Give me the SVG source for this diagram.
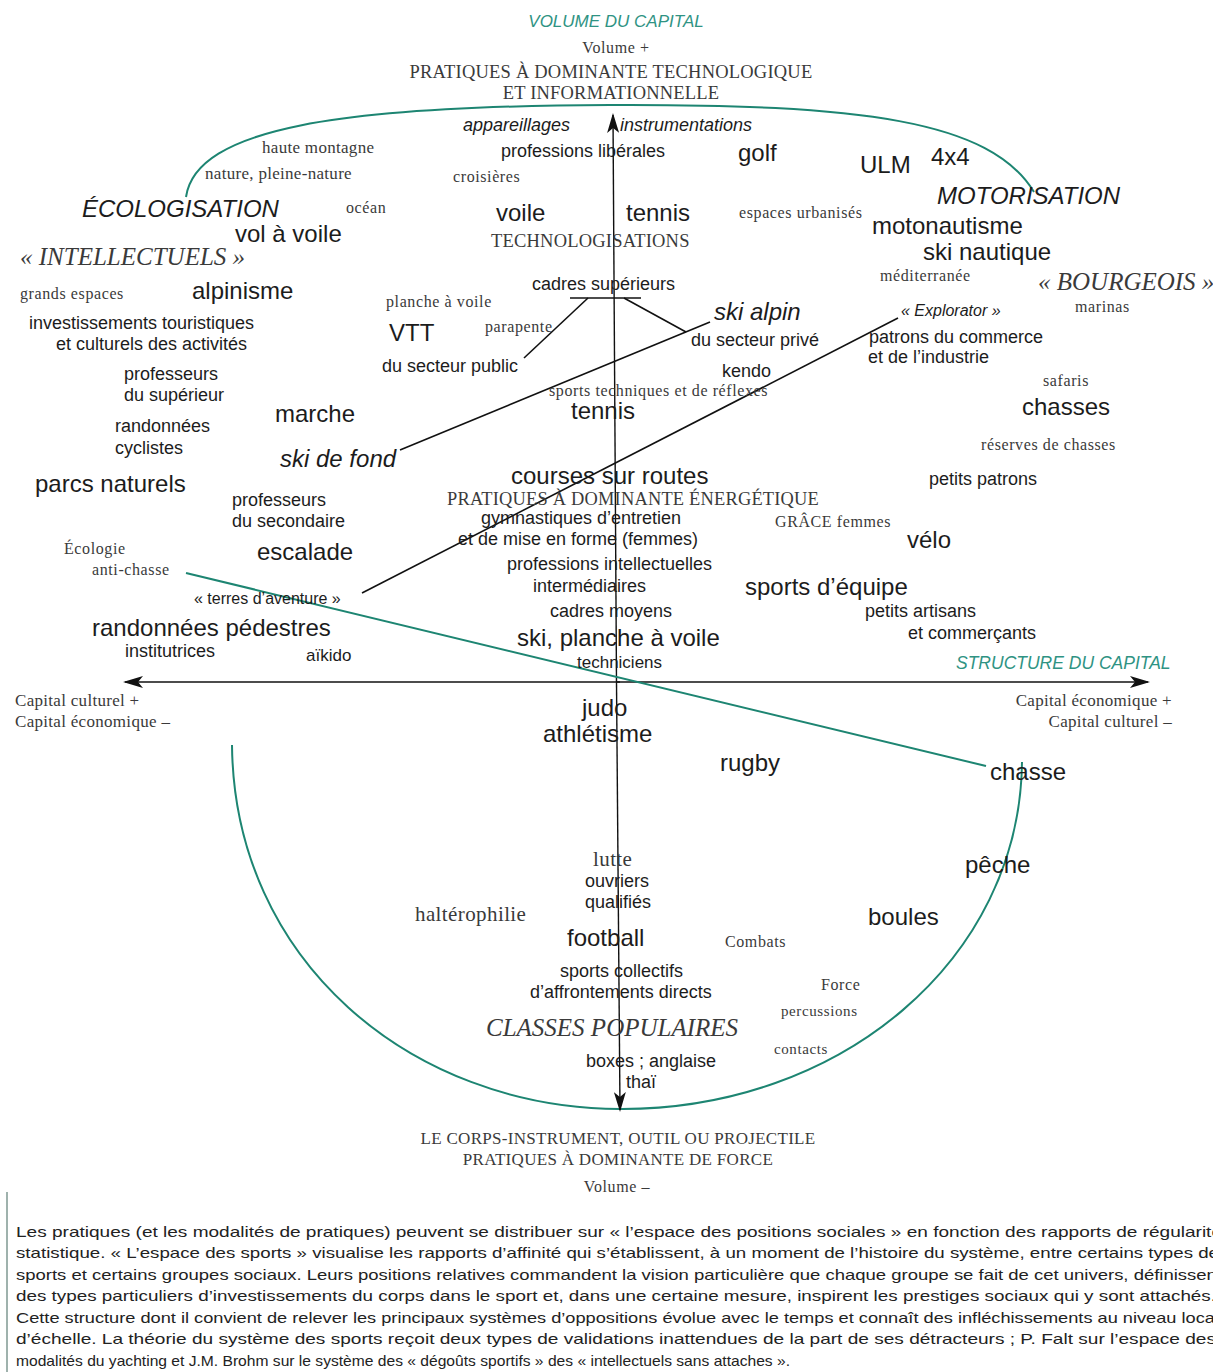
<svg xmlns="http://www.w3.org/2000/svg" width="1213" height="1372" viewBox="0 0 1213 1372">
<defs>
<marker id="ah" viewBox="0 0 20 12" refX="18" refY="6" markerWidth="20" markerHeight="12" markerUnits="userSpaceOnUse" orient="auto">
<path d="M0,0 L20,6 L0,12 L5,6 Z" fill="#111"/>
</marker>
<style>
text{font-family:"Liberation Sans",Arial,sans-serif;fill:#1c1c1c}
.m{font-size:18px}
.l{font-size:24px}
.it{font-style:italic}
.r{font-family:"Liberation Serif","Times New Roman",serif;fill:#3a3a3a;font-size:16px;letter-spacing:0.6px}
.r18{font-size:18.5px;letter-spacing:0.2px}
.r17{font-size:17px;letter-spacing:0.3px}
.r21{font-size:21px;letter-spacing:0.4px}
.r15{font-size:15px}
.rb{font-size:25px;letter-spacing:0}
.t{fill:#2f9383}
.c{text-anchor:middle}
.e{text-anchor:end}
.cap{font-size:14.5px;fill:#222}
.ax{stroke:#111;stroke-width:1.4;fill:none}
.tl{stroke:#1d8572;stroke-width:2;fill:none}
.bl{stroke:#111;stroke-width:1.6;fill:none}
</style>
</defs>
<rect width="1213" height="1372" fill="#fff"/>

<g id="connectors">
<path class="tl" d="M186,197 C196,128 340,106 610,105 C860,104 990,120 1034,192"/>
<path class="tl" d="M232,745 C234,960 410,1108 620,1109 C840,1110 1020,960 1022,762"/>
<line class="ax" x1="616.5" y1="682" x2="613" y2="115" marker-end="url(#ah)"/>
<line class="ax" x1="616.5" y1="682" x2="620" y2="1110" marker-end="url(#ah)"/>
<line class="ax" x1="620" y1="682" x2="125" y2="682" marker-end="url(#ah)"/>
<line class="ax" x1="616" y1="682" x2="1148" y2="682" marker-end="url(#ah)"/>
<line class="tl" x1="186" y1="573" x2="986" y2="766"/>
<line class="bl" x1="400" y1="450" x2="710" y2="322"/>
<line class="bl" x1="362" y1="593" x2="898" y2="318"/>
<line class="bl" x1="570" y1="298" x2="641" y2="298"/>
<line class="bl" x1="588" y1="298" x2="524" y2="358"/>
<line class="bl" x1="624" y1="298" x2="686" y2="332"/>
<line x1="7" y1="1192" x2="7" y2="1372" stroke="#9fb2ad" stroke-width="2"/>
</g>

<g id="axis-labels">
<g id="n-volume-capital"><text class="it t c" x="616" y="27" font-size="17">VOLUME DU CAPITAL</text></g>
<g id="n-volume-plus"><text class="r c" x="616" y="53">Volume +</text></g>
<g id="n-pratiques-techno"><text class="r r18 c" x="611" y="78">PRATIQUES À DOMINANTE TECHNOLOGIQUE</text><text class="r r18 c" x="611" y="99">ET INFORMATIONNELLE</text></g>
<g id="n-structure"><text class="it t" x="956" y="669" font-size="17.5">STRUCTURE DU CAPITAL</text></g>
<g id="n-cap-left"><text class="r r17" x="15" y="706">Capital culturel +</text><text class="r r17" x="15" y="727">Capital économique –</text></g>
<g id="n-cap-right"><text class="r r17 e" x="1172" y="706">Capital économique +</text><text class="r r17 e" x="1172" y="727">Capital culturel –</text></g>
<g id="n-corps"><text class="r r17 c" x="618" y="1144">LE CORPS-INSTRUMENT, OUTIL OU PROJECTILE</text><text class="r r17 c" x="618" y="1165">PRATIQUES À DOMINANTE DE FORCE</text></g>
<g id="n-volume-minus"><text class="r c" x="617" y="1192">Volume –</text></g>
</g>

<g id="nodes">
<g id="n1"><text class="m it" x="463" y="131">appareillages</text></g>
<g id="n2"><text class="m it" x="620" y="131">instrumentations</text></g>
<g id="n3"><text class="r r17" x="262" y="153">haute montagne</text></g>
<g id="n4"><text class="m" x="501" y="157">professions libérales</text></g>
<g id="n5"><text class="l" x="738" y="161">golf</text></g>
<g id="n6"><text class="l" x="860" y="173">ULM</text></g>
<g id="n7"><text class="l" x="931" y="165">4x4</text></g>
<g id="n8"><text class="r r17" x="205" y="179">nature, pleine-nature</text></g>
<g id="n9"><text class="r" x="453" y="182">croisières</text></g>
<g id="n10"><text class="l it" x="82" y="217">ÉCOLOGISATION</text></g>
<g id="n11"><text class="r" x="346" y="213">océan</text></g>
<g id="n12"><text class="l" x="496" y="221">voile</text></g>
<g id="n13"><text class="l" x="626" y="221">tennis</text></g>
<g id="n14"><text class="r" x="739" y="218">espaces urbanisés</text></g>
<g id="n15"><text class="l it" x="937" y="204">MOTORISATION</text></g>
<g id="n16"><text class="l" x="235" y="242">vol à voile</text></g>
<g id="n17"><text class="r r18" x="491" y="247">TECHNOLOGISATIONS</text></g>
<g id="n18"><text class="l" x="872" y="234">motonautisme</text></g>
<g id="n19"><text class="r rb it" x="20" y="265">« INTELLECTUELS »</text></g>
<g id="n20"><text class="l" x="923" y="260">ski nautique</text></g>
<g id="n21"><text class="m" x="532" y="290">cadres supérieurs</text></g>
<g id="n22"><text class="r" x="880" y="281">méditerranée</text></g>
<g id="n23"><text class="r rb it" x="1038" y="290">« BOURGEOIS »</text></g>
<g id="n24"><text class="r" x="20" y="299">grands espaces</text></g>
<g id="n25"><text class="l" x="192" y="299">alpinisme</text></g>
<g id="n26"><text class="r" x="386" y="307">planche à voile</text></g>
<g id="n27"><text class="l it" x="714" y="320">ski alpin</text></g>
<g id="n28"><text class="it" x="901" y="316" font-size="16">« Explorator »</text></g>
<g id="n29"><text class="r" x="1075" y="312">marinas</text></g>
<g id="n30"><text class="m" x="29" y="329">investissements touristiques</text><text class="m" x="56" y="350">et culturels des activités</text></g>
<g id="n31"><text class="l" x="389" y="341">VTT</text></g>
<g id="n32"><text class="r" x="485" y="332">parapente</text></g>
<g id="n33"><text class="m" x="691" y="346">du secteur privé</text></g>
<g id="n34"><text class="m" x="869" y="343">patrons du commerce</text><text class="m" x="868" y="363">et de l’industrie</text></g>
<g id="n35"><text class="m" x="382" y="372">du secteur public</text></g>
<g id="n36"><text class="m" x="722" y="377">kendo</text></g>
<g id="n37"><text class="m" x="124" y="380">professeurs</text><text class="m" x="124" y="401">du supérieur</text></g>
<g id="n38"><text class="r" x="1043" y="386">safaris</text></g>
<g id="n39"><text class="r" x="549" y="396">sports techniques et de réflexes</text></g>
<g id="n40"><text class="l" x="1022" y="415">chasses</text></g>
<g id="n41"><text class="l" x="275" y="422">marche</text></g>
<g id="n42"><text class="l" x="571" y="419">tennis</text></g>
<g id="n43"><text class="m" x="115" y="432">randonnées</text><text class="m" x="115" y="454">cyclistes</text></g>
<g id="n44"><text class="r" x="981" y="450">réserves de chasses</text></g>
<g id="n45"><text class="l it" x="280" y="467">ski de fond</text></g>
<g id="n46"><text class="l" x="511" y="484">courses sur routes</text></g>
<g id="n47"><text class="l" x="35" y="492">parcs naturels</text></g>
<g id="n48"><text class="m" x="929" y="485">petits patrons</text></g>
<g id="n49"><text class="r r18" x="447" y="505" textLength="372" lengthAdjust="spacingAndGlyphs">PRATIQUES À DOMINANTE ÉNERGÉTIQUE</text></g>
<g id="n50"><text class="m" x="232" y="506">professeurs</text><text class="m" x="232" y="527">du secondaire</text></g>
<g id="n51"><text class="m" x="481" y="524">gymnastiques d’entretien</text><text class="m" x="458" y="545">et de mise en forme (femmes)</text></g>
<g id="n52"><text class="r" x="775" y="527">GRÂCE femmes</text></g>
<g id="n53"><text class="r" x="64" y="554">Écologie</text><text class="r" x="92" y="575">anti-chasse</text></g>
<g id="n54"><text class="l" x="907" y="548">vélo</text></g>
<g id="n55"><text class="l" x="257" y="560">escalade</text></g>
<g id="n56"><text class="m" x="507" y="570">professions intellectuelles</text><text class="m" x="533" y="592">intermédiaires</text></g>
<g id="n57"><text class="l" x="745" y="595">sports d’équipe</text></g>
<g id="n58"><text x="194" y="604" font-size="16">« terres d’aventure »</text></g>
<g id="n59"><text class="m" x="550" y="617">cadres moyens</text></g>
<g id="n60"><text class="m" x="865" y="617">petits artisans</text><text class="m" x="908" y="639">et commerçants</text></g>
<g id="n61"><text class="l" x="92" y="636">randonnées pédestres</text></g>
<g id="n62"><text class="l" x="517" y="646">ski, planche à voile</text></g>
<g id="n63"><text class="m" x="125" y="657">institutrices</text></g>
<g id="n64"><text x="306" y="661" font-size="17">aïkido</text></g>
<g id="n65"><text x="577" y="668" font-size="17">techniciens</text></g>
<g id="n66"><text class="l" x="582" y="716">judo</text></g>
<g id="n67"><text class="l" x="543" y="742">athlétisme</text></g>
<g id="n68"><text class="l" x="720" y="771">rugby</text></g>
<g id="n69"><text class="l" x="990" y="780">chasse</text></g>
<g id="n70"><text class="r r21" x="593" y="866">lutte</text></g>
<g id="n71"><text class="l" x="965" y="873">pêche</text></g>
<g id="n72"><text class="m" x="585" y="887">ouvriers</text><text class="m" x="585" y="908">qualifiés</text></g>
<g id="n73"><text class="r r21" x="415" y="921">haltérophilie</text></g>
<g id="n74"><text class="l" x="868" y="925">boules</text></g>
<g id="n75"><text class="l" x="567" y="946">football</text></g>
<g id="n76"><text class="r" x="725" y="947">Combats</text></g>
<g id="n77"><text class="m" x="560" y="977">sports collectifs</text><text class="m" x="530" y="998">d’affrontements directs</text></g>
<g id="n78"><text class="r" x="821" y="990">Force</text></g>
<g id="n79"><text class="r r15" x="781" y="1016">percussions</text></g>
<g id="n80"><text class="r rb it" x="486" y="1036">CLASSES POPULAIRES</text></g>
<g id="n81"><text class="r r15" x="774" y="1054">contacts</text></g>
<g id="n82"><text class="m" x="586" y="1067">boxes ; anglaise</text><text class="m" x="626" y="1088">thaï</text></g>
</g>

<g id="caption">
<text class="cap" x="16" y="1237" textLength="1206" lengthAdjust="spacingAndGlyphs">Les pratiques (et les modalités de pratiques) peuvent se distribuer sur « l’espace des positions sociales » en fonction des rapports de régularité</text>
<text class="cap" x="16" y="1258" textLength="1203" lengthAdjust="spacingAndGlyphs">statistique. « L’espace des sports » visualise les rapports d’affinité qui s’établissent, à un moment de l’histoire du système, entre certains types de</text>
<text class="cap" x="16" y="1280" textLength="1206" lengthAdjust="spacingAndGlyphs">sports et certains groupes sociaux. Leurs positions relatives commandent la vision particulière que chaque groupe se fait de cet univers, définissent</text>
<text class="cap" x="16" y="1301" textLength="1200" lengthAdjust="spacingAndGlyphs">des types particuliers d’investissements du corps dans le sport et, dans une certaine mesure, inspirent les prestiges sociaux qui y sont attachés.</text>
<text class="cap" x="16" y="1323" textLength="1203" lengthAdjust="spacingAndGlyphs">Cette structure dont il convient de relever les principaux systèmes d’oppositions évolue avec le temps et connaît des infléchissements au niveau local</text>
<text class="cap" x="16" y="1344" textLength="1200" lengthAdjust="spacingAndGlyphs">d’échelle. La théorie du système des sports reçoit deux types de validations inattendues de la part de ses détracteurs ; P. Falt sur l’espace des</text>
<text class="cap" x="16" y="1366" textLength="774" lengthAdjust="spacingAndGlyphs">modalités du yachting et J.M. Brohm sur le système des « dégoûts sportifs » des « intellectuels sans attaches ».</text>
</g>
</svg>
